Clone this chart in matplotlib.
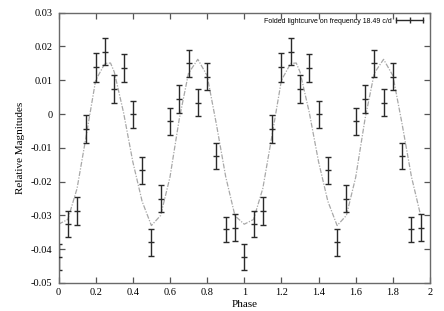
import numpy as np
import matplotlib
matplotlib.use("Agg")
import matplotlib.pyplot as plt
from matplotlib.lines import Line2D

# One cycle of folded data (phase 0..0.95), repeated for phase 1..1.95
phase = [0.00, 0.05, 0.10, 0.15, 0.20, 0.25, 0.30, 0.35, 0.40, 0.45,
         0.50, 0.55, 0.60, 0.65, 0.70, 0.75, 0.80, 0.85, 0.90, 0.95]
mag = [-0.0424, -0.0326, -0.0286, -0.0045, 0.0138, 0.0185, 0.0074, 0.0136, -0.0001, -0.0167,
       -0.0380, -0.0250, -0.0022, 0.0045, 0.0150, 0.0034, 0.0111, -0.0124, -0.0341, -0.0336]
err = [0.0039, 0.0039, 0.0041, 0.0042, 0.0042, 0.0039, 0.0042, 0.0041, 0.0040, 0.0040,
       0.0041, 0.0039, 0.0040, 0.0041, 0.0041, 0.0041, 0.0040, 0.0039, 0.0037, 0.0040]

# Fitted curve, one cycle
fit_phase = [0.00, 0.05, 0.10, 0.15, 0.20, 0.25, 0.28, 0.30, 0.35, 0.40, 0.45,
             0.50, 0.55, 0.60, 0.65, 0.70, 0.75, 0.80, 0.85, 0.90, 0.95]
fit_mag = [-0.0326, -0.0312, -0.0220, -0.0062, 0.0100, 0.0150, 0.0151, 0.0125, 0.0005, -0.0141, -0.0258,
           -0.0330, -0.0300, -0.0187, -0.0015, 0.0121, 0.0162, 0.0114, -0.0030, -0.0185, -0.0301]

legend_label = "Folded lightcurve on frequency 18.49 c/d"
x_ticks = [0, 0.2, 0.4, 0.6, 0.8, 1, 1.2, 1.4, 1.6, 1.8, 2]
x_ticklabels = ["0", "0.2", "0.4", "0.6", "0.8", "1", "1.2", "1.4", "1.6", "1.8", "2"]
y_ticks = [-0.05, -0.04, -0.03, -0.02, -0.01, 0, 0.01, 0.02, 0.03]
y_ticklabels = ["-0.05", "-0.04", "-0.03", "-0.02", "-0.01", "0", "0.01", "0.02", "0.03"]

ph_all = np.concatenate([np.array(phase), np.array(phase) + 1])
mag_all = np.concatenate([mag, mag])
err_all = np.concatenate([err, err])
fx_all = np.concatenate([np.array(fit_phase), np.array(fit_phase) + 1])
fy_all = np.concatenate([fit_mag, fit_mag])

fig = plt.figure(figsize=(4.44, 3.11), dpi=100)
ax = fig.add_axes([58.5 / 444, 1 - 283 / 311, (430 - 58.5) / 444, (283 - 12.7) / 311])

ax.plot(fx_all, fy_all, color="#a8a8a8", lw=0.9, linestyle=(0, (4, 1.2, 1, 1.2)), zorder=1)
ax.errorbar(ph_all, mag_all, yerr=err_all, fmt="none", ecolor="#2a2a2a", elinewidth=1.0,
            capsize=2.2, capthick=1.0, zorder=2)
ax.plot(ph_all, mag_all, linestyle="none", marker="_", markersize=4.5, markeredgewidth=1.0,
        color="#2a2a2a", zorder=3)

ax.set_xlim(0, 2)
ax.set_ylim(-0.05, 0.03)
ax.set_xticks(x_ticks)
ax.set_xticklabels(x_ticklabels)
ax.set_yticks(y_ticks)
ax.set_yticklabels(y_ticklabels)

serif = ["Liberation Serif", "DejaVu Serif"]
for lab in ax.get_xticklabels() + ax.get_yticklabels():
    lab.set_family(serif)
    lab.set_fontsize(7.5)
ax.tick_params(direction="in", top=True, right=True, length=4, width=0.9, color="#555555")
ax.tick_params(axis="y", pad=4.5)
ax.tick_params(axis="x", pad=3.5)
for s in ax.spines.values():
    s.set_color("#6a6a6a")
    s.set_linewidth(1.0)

ax.set_xlabel("Phase", family=serif, fontsize=8, labelpad=2)
ax.set_ylabel("Relative Magnitudes", family=serif, fontsize=8, labelpad=4)

handle = Line2D([], [], color="#2a2a2a", lw=1.0, marker="|", markersize=4, markeredgewidth=1.0)
leg = ax.legend([handle], [legend_label], loc="upper right", frameon=False, markerfirst=False,
                numpoints=3, handlelength=4.5, handletextpad=0.3, borderaxespad=0.3,
                prop={"family": ["Liberation Sans", "DejaVu Sans"], "size": 5})

fig.savefig("out.png", dpi=100)
